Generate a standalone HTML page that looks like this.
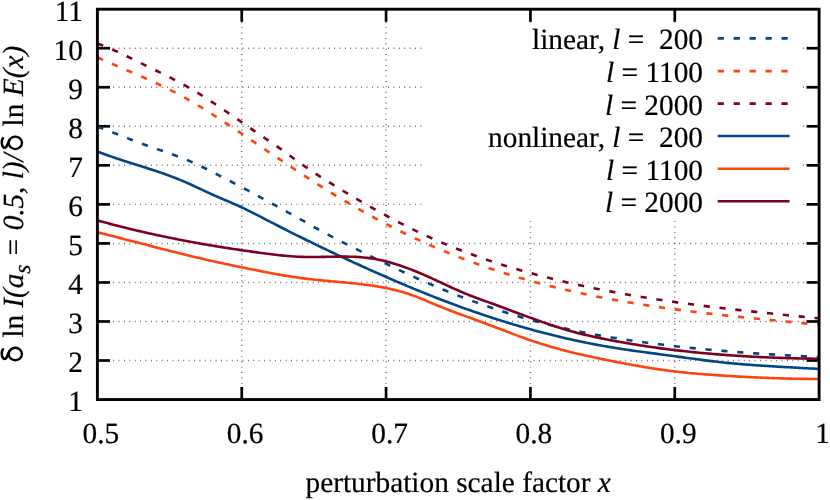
<!DOCTYPE html>
<html><head><meta charset="utf-8"><title>chart</title>
<style>
html,body{margin:0;padding:0;background:#fff;}
body{width:830px;height:500px;overflow:hidden;font-family:"Liberation Serif",serif;}
svg{display:block;will-change:transform;}
.t{font-family:"Liberation Serif",serif;font-size:29.33px;fill:#000;text-rendering:geometricPrecision;stroke:#000;stroke-width:0.2px;}
.s{font-family:"Liberation Sans",sans-serif;}
</style></head><body>
<svg width="830" height="500" viewBox="0 0 830 500">
<rect width="830" height="500" fill="#ffffff"/>
<g stroke="#000" stroke-opacity="0.62" stroke-width="1.45" stroke-dasharray="0.9 4.49" fill="none">
<path d="M97.04,360.51 H819.10"/>
<path d="M97.04,321.48 H819.10"/>
<path d="M97.04,282.44 H819.10"/>
<path d="M97.04,243.41 H819.10"/>
<path d="M97.04,204.38 H819.10"/>
<path d="M97.04,165.34 H819.10"/>
<path d="M97.04,126.31 H819.10"/>
<path d="M97.04,87.27 H819.10"/>
<path d="M97.04,48.23 H819.10"/>
<path d="M241.74,399.96 V9.20"/>
<path d="M386.08,399.96 V9.20"/>
<path d="M530.42,399.96 V9.20"/>
<path d="M674.76,399.96 V9.20"/>
</g>
<g stroke="#000" stroke-width="2.7" fill="none">
<path d="M97.40,360.51 h12.6"/><path d="M819.10,360.51 h-12.6"/>
<path d="M97.40,321.48 h12.6"/><path d="M819.10,321.48 h-12.6"/>
<path d="M97.40,282.44 h12.6"/><path d="M819.10,282.44 h-12.6"/>
<path d="M97.40,243.41 h12.6"/><path d="M819.10,243.41 h-12.6"/>
<path d="M97.40,204.38 h12.6"/><path d="M819.10,204.38 h-12.6"/>
<path d="M97.40,165.34 h12.6"/><path d="M819.10,165.34 h-12.6"/>
<path d="M97.40,126.31 h12.6"/><path d="M819.10,126.31 h-12.6"/>
<path d="M97.40,87.27 h12.6"/><path d="M819.10,87.27 h-12.6"/>
<path d="M97.40,48.23 h12.6"/><path d="M819.10,48.23 h-12.6"/>
<path d="M241.74,399.55 v-12.6"/><path d="M241.74,9.20 v12.6"/>
<path d="M386.08,399.55 v-12.6"/><path d="M386.08,9.20 v12.6"/>
<path d="M530.42,399.55 v-12.6"/><path d="M530.42,9.20 v12.6"/>
<path d="M674.76,399.55 v-12.6"/><path d="M674.76,9.20 v12.6"/>
</g>
<g fill="none" stroke-linejoin="round">
<path d="M97.40,126.69 L99.40,127.40 L101.40,128.13 L103.40,128.86 L105.40,129.61 L107.40,130.37 L109.40,131.13 L111.40,131.90 L113.40,132.67 L115.40,133.45 L117.40,134.23 L119.40,135.02 L121.40,135.81 L123.40,136.59 L125.40,137.38 L127.40,138.16 L129.40,138.95 L131.40,139.72 L133.40,140.50 L135.40,141.27 L137.40,142.03 L139.40,142.78 L141.40,143.53 L143.40,144.26 L145.40,144.99 L147.40,145.70 L149.40,146.41 L151.40,147.10 L153.40,147.80 L155.40,148.49 L157.40,149.17 L159.40,149.86 L161.40,150.55 L163.40,151.23 L165.40,151.92 L167.40,152.62 L169.40,153.32 L171.40,154.03 L173.40,154.75 L175.40,155.48 L177.40,156.22 L179.40,156.98 L181.40,157.75 L183.40,158.53 L185.40,159.34 L187.40,160.16 L189.40,161.00 L191.40,161.87 L193.40,162.76 L195.40,163.67 L197.40,164.60 L199.40,165.54 L201.40,166.50 L203.40,167.48 L205.40,168.46 L207.40,169.46 L209.40,170.46 L211.40,171.47 L213.40,172.49 L215.40,173.51 L217.40,174.54 L219.40,175.56 L221.40,176.59 L223.40,177.61 L225.40,178.64 L227.40,179.67 L229.40,180.70 L231.40,181.74 L233.40,182.79 L235.40,183.84 L237.40,184.89 L239.40,185.95 L241.40,187.01 L243.40,188.08 L245.40,189.15 L247.40,190.23 L249.40,191.31 L251.40,192.39 L253.40,193.47 L255.40,194.56 L257.40,195.65 L259.40,196.74 L261.40,197.83 L263.40,198.92 L265.40,200.01 L267.40,201.10 L269.40,202.20 L271.40,203.29 L273.40,204.38 L275.40,205.47 L277.40,206.56 L279.40,207.65 L281.40,208.74 L283.40,209.83 L285.40,210.92 L287.40,212.02 L289.40,213.11 L291.40,214.21 L293.40,215.32 L295.40,216.43 L297.40,217.54 L299.40,218.66 L301.40,219.79 L303.40,220.92 L305.40,222.06 L307.40,223.20 L309.40,224.34 L311.40,225.49 L313.40,226.62 L315.40,227.75 L317.40,228.87 L319.40,229.98 L321.40,231.08 L323.40,232.17 L325.40,233.25 L327.40,234.32 L329.40,235.38 L331.40,236.43 L333.40,237.48 L335.40,238.52 L337.40,239.55 L339.40,240.58 L341.40,241.60 L343.40,242.62 L345.40,243.63 L347.40,244.64 L349.40,245.65 L351.40,246.65 L353.40,247.65 L355.40,248.65 L357.40,249.65 L359.40,250.64 L361.40,251.64 L363.40,252.63 L365.40,253.62 L367.40,254.61 L369.40,255.60 L371.40,256.59 L373.40,257.57 L375.40,258.56 L377.40,259.54 L379.40,260.52 L381.40,261.49 L383.40,262.47 L385.40,263.44 L387.40,264.40 L389.40,265.37 L391.40,266.33 L393.40,267.29 L395.40,268.24 L397.40,269.19 L399.40,270.14 L401.40,271.08 L403.40,272.02 L405.40,272.96 L407.40,273.89 L409.40,274.82 L411.40,275.74 L413.40,276.66 L415.40,277.57 L417.40,278.47 L419.40,279.38 L421.40,280.27 L423.40,281.16 L425.40,282.05 L427.40,282.93 L429.40,283.80 L431.40,284.67 L433.40,285.53 L435.40,286.39 L437.40,287.24 L439.40,288.08 L441.40,288.92 L443.40,289.75 L445.40,290.57 L447.40,291.38 L449.40,292.19 L451.40,292.99 L453.40,293.79 L455.40,294.57 L457.40,295.36 L459.40,296.13 L461.40,296.90 L463.40,297.66 L465.40,298.41 L467.40,299.16 L469.40,299.90 L471.40,300.64 L473.40,301.37 L475.40,302.10 L477.40,302.82 L479.40,303.53 L481.40,304.24 L483.40,304.94 L485.40,305.64 L487.40,306.33 L489.40,307.01 L491.40,307.70 L493.40,308.37 L495.40,309.04 L497.40,309.71 L499.40,310.37 L501.40,311.02 L503.40,311.67 L505.40,312.32 L507.40,312.95 L509.40,313.59 L511.40,314.21 L513.40,314.83 L515.40,315.45 L517.40,316.05 L519.40,316.65 L521.40,317.25 L523.40,317.84 L525.40,318.42 L527.40,318.99 L529.40,319.56 L531.40,320.12 L533.40,320.68 L535.40,321.22 L537.40,321.76 L539.40,322.30 L541.40,322.82 L543.40,323.34 L545.40,323.85 L547.40,324.36 L549.40,324.86 L551.40,325.35 L553.40,325.84 L555.40,326.32 L557.40,326.79 L559.40,327.25 L561.40,327.71 L563.40,328.17 L565.40,328.62 L567.40,329.06 L569.40,329.49 L571.40,329.93 L573.40,330.35 L575.40,330.77 L577.40,331.18 L579.40,331.59 L581.40,331.99 L583.40,332.39 L585.40,332.78 L587.40,333.17 L589.40,333.55 L591.40,333.93 L593.40,334.30 L595.40,334.67 L597.40,335.03 L599.40,335.39 L601.40,335.74 L603.40,336.09 L605.40,336.44 L607.40,336.78 L609.40,337.11 L611.40,337.44 L613.40,337.77 L615.40,338.09 L617.40,338.41 L619.40,338.73 L621.40,339.04 L623.40,339.35 L625.40,339.65 L627.40,339.96 L629.40,340.25 L631.40,340.55 L633.40,340.84 L635.40,341.13 L637.40,341.41 L639.40,341.69 L641.40,341.97 L643.40,342.24 L645.40,342.52 L647.40,342.78 L649.40,343.05 L651.40,343.31 L653.40,343.57 L655.40,343.83 L657.40,344.08 L659.40,344.33 L661.40,344.58 L663.40,344.82 L665.40,345.06 L667.40,345.30 L669.40,345.53 L671.40,345.77 L673.40,346.00 L675.40,346.22 L677.40,346.45 L679.40,346.67 L681.40,346.89 L683.40,347.10 L685.40,347.32 L687.40,347.53 L689.40,347.74 L691.40,347.94 L693.40,348.15 L695.40,348.35 L697.40,348.55 L699.40,348.74 L701.40,348.93 L703.40,349.13 L705.40,349.31 L707.40,349.50 L709.40,349.68 L711.40,349.87 L713.40,350.05 L715.40,350.22 L717.40,350.40 L719.40,350.57 L721.40,350.74 L723.40,350.91 L725.40,351.08 L727.40,351.24 L729.40,351.40 L731.40,351.56 L733.40,351.72 L735.40,351.88 L737.40,352.03 L739.40,352.19 L741.40,352.34 L743.40,352.49 L745.40,352.63 L747.40,352.78 L749.40,352.92 L751.40,353.06 L753.40,353.20 L755.40,353.34 L757.40,353.48 L759.40,353.61 L761.40,353.75 L763.40,353.88 L765.40,354.01 L767.40,354.14 L769.40,354.27 L771.40,354.39 L773.40,354.52 L775.40,354.64 L777.40,354.76 L779.40,354.88 L781.40,355.00 L783.40,355.12 L785.40,355.24 L787.40,355.35 L789.40,355.47 L791.40,355.58 L793.40,355.69 L795.40,355.80 L797.40,355.91 L799.40,356.02 L801.40,356.13 L803.40,356.23 L805.40,356.34 L807.40,356.44 L809.40,356.54 L811.40,356.65 L813.40,356.75 L815.40,356.85 L817.40,356.95 L819.10,357.03" stroke="#004586" stroke-width="2.6" stroke-dasharray="6.2 9.726"/>
<path d="M97.40,57.42 L99.40,58.31 L101.40,59.20 L103.40,60.08 L105.40,60.96 L107.40,61.83 L109.40,62.70 L111.40,63.56 L113.40,64.42 L115.40,65.29 L117.40,66.15 L119.40,67.00 L121.40,67.86 L123.40,68.72 L125.40,69.58 L127.40,70.44 L129.40,71.30 L131.40,72.16 L133.40,73.03 L135.40,73.90 L137.40,74.77 L139.40,75.65 L141.40,76.53 L143.40,77.41 L145.40,78.30 L147.40,79.20 L149.40,80.11 L151.40,81.02 L153.40,81.94 L155.40,82.86 L157.40,83.80 L159.40,84.74 L161.40,85.69 L163.40,86.66 L165.40,87.63 L167.40,88.62 L169.40,89.61 L171.40,90.62 L173.40,91.65 L175.40,92.68 L177.40,93.73 L179.40,94.79 L181.40,95.87 L183.40,96.96 L185.40,98.06 L187.40,99.19 L189.40,100.33 L191.40,101.48 L193.40,102.65 L195.40,103.83 L197.40,105.03 L199.40,106.24 L201.40,107.46 L203.40,108.70 L205.40,109.94 L207.40,111.20 L209.40,112.46 L211.40,113.73 L213.40,115.02 L215.40,116.30 L217.40,117.60 L219.40,118.90 L221.40,120.21 L223.40,121.52 L225.40,122.84 L227.40,124.16 L229.40,125.48 L231.40,126.81 L233.40,128.14 L235.40,129.47 L237.40,130.80 L239.40,132.14 L241.40,133.48 L243.40,134.82 L245.40,136.17 L247.40,137.51 L249.40,138.86 L251.40,140.22 L253.40,141.57 L255.40,142.93 L257.40,144.29 L259.40,145.65 L261.40,147.01 L263.40,148.37 L265.40,149.73 L267.40,151.09 L269.40,152.45 L271.40,153.80 L273.40,155.15 L275.40,156.50 L277.40,157.85 L279.40,159.19 L281.40,160.54 L283.40,161.87 L285.40,163.21 L287.40,164.54 L289.40,165.87 L291.40,167.19 L293.40,168.52 L295.40,169.83 L297.40,171.15 L299.40,172.46 L301.40,173.77 L303.40,175.07 L305.40,176.37 L307.40,177.66 L309.40,178.95 L311.40,180.24 L313.40,181.52 L315.40,182.79 L317.40,184.06 L319.40,185.33 L321.40,186.59 L323.40,187.85 L325.40,189.10 L327.40,190.34 L329.40,191.58 L331.40,192.82 L333.40,194.05 L335.40,195.27 L337.40,196.49 L339.40,197.70 L341.40,198.90 L343.40,200.10 L345.40,201.29 L347.40,202.48 L349.40,203.65 L351.40,204.83 L353.40,205.99 L355.40,207.15 L357.40,208.30 L359.40,209.45 L361.40,210.58 L363.40,211.71 L365.40,212.83 L367.40,213.95 L369.40,215.06 L371.40,216.16 L373.40,217.25 L375.40,218.33 L377.40,219.41 L379.40,220.48 L381.40,221.55 L383.40,222.60 L385.40,223.65 L387.40,224.69 L389.40,225.73 L391.40,226.75 L393.40,227.77 L395.40,228.78 L397.40,229.79 L399.40,230.79 L401.40,231.78 L403.40,232.76 L405.40,233.73 L407.40,234.70 L409.40,235.66 L411.40,236.62 L413.40,237.56 L415.40,238.50 L417.40,239.43 L419.40,240.36 L421.40,241.28 L423.40,242.19 L425.40,243.09 L427.40,243.98 L429.40,244.87 L431.40,245.75 L433.40,246.63 L435.40,247.49 L437.40,248.35 L439.40,249.20 L441.40,250.05 L443.40,250.89 L445.40,251.72 L447.40,252.54 L449.40,253.36 L451.40,254.16 L453.40,254.97 L455.40,255.76 L457.40,256.55 L459.40,257.33 L461.40,258.10 L463.40,258.87 L465.40,259.63 L467.40,260.38 L469.40,261.13 L471.40,261.87 L473.40,262.60 L475.40,263.33 L477.40,264.04 L479.40,264.76 L481.40,265.46 L483.40,266.16 L485.40,266.86 L487.40,267.54 L489.40,268.22 L491.40,268.90 L493.40,269.57 L495.40,270.23 L497.40,270.88 L499.40,271.53 L501.40,272.17 L503.40,272.81 L505.40,273.44 L507.40,274.07 L509.40,274.69 L511.40,275.30 L513.40,275.91 L515.40,276.51 L517.40,277.10 L519.40,277.69 L521.40,278.28 L523.40,278.85 L525.40,279.43 L527.40,279.99 L529.40,280.56 L531.40,281.11 L533.40,281.66 L535.40,282.21 L537.40,282.75 L539.40,283.28 L541.40,283.81 L543.40,284.34 L545.40,284.85 L547.40,285.37 L549.40,285.88 L551.40,286.38 L553.40,286.88 L555.40,287.37 L557.40,287.86 L559.40,288.34 L561.40,288.82 L563.40,289.29 L565.40,289.76 L567.40,290.23 L569.40,290.69 L571.40,291.14 L573.40,291.59 L575.40,292.04 L577.40,292.48 L579.40,292.91 L581.40,293.35 L583.40,293.77 L585.40,294.20 L587.40,294.62 L589.40,295.03 L591.40,295.44 L593.40,295.85 L595.40,296.25 L597.40,296.65 L599.40,297.04 L601.40,297.43 L603.40,297.81 L605.40,298.20 L607.40,298.57 L609.40,298.95 L611.40,299.32 L613.40,299.68 L615.40,300.04 L617.40,300.40 L619.40,300.76 L621.40,301.11 L623.40,301.46 L625.40,301.80 L627.40,302.14 L629.40,302.48 L631.40,302.81 L633.40,303.14 L635.40,303.47 L637.40,303.79 L639.40,304.11 L641.40,304.43 L643.40,304.74 L645.40,305.06 L647.40,305.36 L649.40,305.67 L651.40,305.97 L653.40,306.27 L655.40,306.56 L657.40,306.86 L659.40,307.15 L661.40,307.43 L663.40,307.72 L665.40,308.00 L667.40,308.28 L669.40,308.55 L671.40,308.83 L673.40,309.10 L675.40,309.37 L677.40,309.63 L679.40,309.90 L681.40,310.16 L683.40,310.42 L685.40,310.68 L687.40,310.93 L689.40,311.18 L691.40,311.43 L693.40,311.68 L695.40,311.93 L697.40,312.17 L699.40,312.41 L701.40,312.65 L703.40,312.89 L705.40,313.12 L707.40,313.36 L709.40,313.59 L711.40,313.82 L713.40,314.05 L715.40,314.28 L717.40,314.50 L719.40,314.73 L721.40,314.95 L723.40,315.17 L725.40,315.39 L727.40,315.60 L729.40,315.82 L731.40,316.04 L733.40,316.25 L735.40,316.46 L737.40,316.67 L739.40,316.88 L741.40,317.09 L743.40,317.30 L745.40,317.51 L747.40,317.71 L749.40,317.92 L751.40,318.12 L753.40,318.32 L755.40,318.52 L757.40,318.73 L759.40,318.93 L761.40,319.13 L763.40,319.32 L765.40,319.52 L767.40,319.72 L769.40,319.92 L771.40,320.11 L773.40,320.31 L775.40,320.51 L777.40,320.70 L779.40,320.90 L781.40,321.09 L783.40,321.28 L785.40,321.48 L787.40,321.67 L789.40,321.87 L791.40,322.06 L793.40,322.25 L795.40,322.45 L797.40,322.64 L799.40,322.83 L801.40,323.03 L803.40,323.22 L805.40,323.41 L807.40,323.61 L809.40,323.80 L811.40,324.00 L813.40,324.19 L815.40,324.39 L817.40,324.58 L819.10,324.75" stroke="#ff420e" stroke-width="2.6" stroke-dasharray="6.2 9.716"/>
<path d="M97.40,43.57 L99.40,44.28 L101.40,45.02 L103.40,45.79 L105.40,46.58 L107.40,47.39 L109.40,48.23 L111.40,49.09 L113.40,49.96 L115.40,50.85 L117.40,51.76 L119.40,52.69 L121.40,53.62 L123.40,54.57 L125.40,55.53 L127.40,56.50 L129.40,57.47 L131.40,58.45 L133.40,59.43 L135.40,60.42 L137.40,61.41 L139.40,62.40 L141.40,63.39 L143.40,64.37 L145.40,65.36 L147.40,66.33 L149.40,67.31 L151.40,68.29 L153.40,69.26 L155.40,70.24 L157.40,71.22 L159.40,72.20 L161.40,73.18 L163.40,74.17 L165.40,75.17 L167.40,76.17 L169.40,77.19 L171.40,78.21 L173.40,79.24 L175.40,80.28 L177.40,81.34 L179.40,82.41 L181.40,83.49 L183.40,84.59 L185.40,85.71 L187.40,86.84 L189.40,87.99 L191.40,89.16 L193.40,90.34 L195.40,91.54 L197.40,92.75 L199.40,93.98 L201.40,95.22 L203.40,96.48 L205.40,97.75 L207.40,99.03 L209.40,100.32 L211.40,101.62 L213.40,102.93 L215.40,104.25 L217.40,105.58 L219.40,106.92 L221.40,108.27 L223.40,109.62 L225.40,110.98 L227.40,112.34 L229.40,113.71 L231.40,115.09 L233.40,116.46 L235.40,117.85 L237.40,119.23 L239.40,120.61 L241.40,122.00 L243.40,123.39 L245.40,124.78 L247.40,126.16 L249.40,127.55 L251.40,128.93 L253.40,130.32 L255.40,131.70 L257.40,133.07 L259.40,134.44 L261.40,135.81 L263.40,137.17 L265.40,138.52 L267.40,139.87 L269.40,141.22 L271.40,142.57 L273.40,143.92 L275.40,145.29 L277.40,146.67 L279.40,148.08 L281.40,149.50 L283.40,150.95 L285.40,152.40 L287.40,153.87 L289.40,155.33 L291.40,156.80 L293.40,158.25 L295.40,159.70 L297.40,161.14 L299.40,162.56 L301.40,163.98 L303.40,165.38 L305.40,166.77 L307.40,168.14 L309.40,169.50 L311.40,170.85 L313.40,172.18 L315.40,173.51 L317.40,174.82 L319.40,176.12 L321.40,177.41 L323.40,178.69 L325.40,179.96 L327.40,181.22 L329.40,182.47 L331.40,183.72 L333.40,184.96 L335.40,186.19 L337.40,187.41 L339.40,188.63 L341.40,189.84 L343.40,191.04 L345.40,192.25 L347.40,193.44 L349.40,194.63 L351.40,195.82 L353.40,197.00 L355.40,198.18 L357.40,199.35 L359.40,200.52 L361.40,201.68 L363.40,202.83 L365.40,203.99 L367.40,205.13 L369.40,206.27 L371.40,207.40 L373.40,208.53 L375.40,209.65 L377.40,210.76 L379.40,211.87 L381.40,212.97 L383.40,214.07 L385.40,215.16 L387.40,216.24 L389.40,217.31 L391.40,218.38 L393.40,219.44 L395.40,220.50 L397.40,221.54 L399.40,222.58 L401.40,223.61 L403.40,224.63 L405.40,225.65 L407.40,226.66 L409.40,227.65 L411.40,228.64 L413.40,229.63 L415.40,230.60 L417.40,231.57 L419.40,232.52 L421.40,233.47 L423.40,234.41 L425.40,235.34 L427.40,236.26 L429.40,237.18 L431.40,238.08 L433.40,238.97 L435.40,239.86 L437.40,240.73 L439.40,241.60 L441.40,242.46 L443.40,243.31 L445.40,244.15 L447.40,244.98 L449.40,245.80 L451.40,246.62 L453.40,247.42 L455.40,248.22 L457.40,249.01 L459.40,249.79 L461.40,250.57 L463.40,251.33 L465.40,252.09 L467.40,252.84 L469.40,253.59 L471.40,254.32 L473.40,255.05 L475.40,255.77 L477.40,256.48 L479.40,257.19 L481.40,257.89 L483.40,258.58 L485.40,259.27 L487.40,259.95 L489.40,260.62 L491.40,261.28 L493.40,261.94 L495.40,262.59 L497.40,263.24 L499.40,263.88 L501.40,264.51 L503.40,265.14 L505.40,265.76 L507.40,266.37 L509.40,266.98 L511.40,267.58 L513.40,268.18 L515.40,268.77 L517.40,269.36 L519.40,269.94 L521.40,270.51 L523.40,271.08 L525.40,271.65 L527.40,272.21 L529.40,272.76 L531.40,273.31 L533.40,273.85 L535.40,274.39 L537.40,274.93 L539.40,275.46 L541.40,275.98 L543.40,276.50 L545.40,277.02 L547.40,277.53 L549.40,278.04 L551.40,278.54 L553.40,279.04 L555.40,279.53 L557.40,280.02 L559.40,280.50 L561.40,280.98 L563.40,281.46 L565.40,281.93 L567.40,282.40 L569.40,282.86 L571.40,283.32 L573.40,283.77 L575.40,284.22 L577.40,284.67 L579.40,285.11 L581.40,285.55 L583.40,285.98 L585.40,286.41 L587.40,286.84 L589.40,287.26 L591.40,287.68 L593.40,288.09 L595.40,288.50 L597.40,288.91 L599.40,289.31 L601.40,289.71 L603.40,290.10 L605.40,290.49 L607.40,290.88 L609.40,291.26 L611.40,291.65 L613.40,292.02 L615.40,292.40 L617.40,292.76 L619.40,293.13 L621.40,293.49 L623.40,293.85 L625.40,294.21 L627.40,294.56 L629.40,294.91 L631.40,295.26 L633.40,295.60 L635.40,295.94 L637.40,296.28 L639.40,296.61 L641.40,296.94 L643.40,297.27 L645.40,297.59 L647.40,297.91 L649.40,298.23 L651.40,298.55 L653.40,298.86 L655.40,299.17 L657.40,299.47 L659.40,299.78 L661.40,300.08 L663.40,300.38 L665.40,300.67 L667.40,300.97 L669.40,301.26 L671.40,301.55 L673.40,301.83 L675.40,302.11 L677.40,302.40 L679.40,302.67 L681.40,302.95 L683.40,303.22 L685.40,303.49 L687.40,303.76 L689.40,304.03 L691.40,304.30 L693.40,304.56 L695.40,304.82 L697.40,305.08 L699.40,305.33 L701.40,305.59 L703.40,305.84 L705.40,306.09 L707.40,306.34 L709.40,306.59 L711.40,306.83 L713.40,307.08 L715.40,307.32 L717.40,307.56 L719.40,307.79 L721.40,308.03 L723.40,308.27 L725.40,308.50 L727.40,308.73 L729.40,308.96 L731.40,309.19 L733.40,309.42 L735.40,309.65 L737.40,309.87 L739.40,310.09 L741.40,310.32 L743.40,310.54 L745.40,310.76 L747.40,310.98 L749.40,311.20 L751.40,311.41 L753.40,311.63 L755.40,311.84 L757.40,312.06 L759.40,312.27 L761.40,312.48 L763.40,312.69 L765.40,312.90 L767.40,313.11 L769.40,313.32 L771.40,313.53 L773.40,313.74 L775.40,313.95 L777.40,314.15 L779.40,314.36 L781.40,314.56 L783.40,314.77 L785.40,314.97 L787.40,315.18 L789.40,315.38 L791.40,315.59 L793.40,315.79 L795.40,315.99 L797.40,316.19 L799.40,316.40 L801.40,316.60 L803.40,316.80 L805.40,317.01 L807.40,317.21 L809.40,317.41 L811.40,317.61 L813.40,317.81 L815.40,318.02 L817.40,318.22 L819.10,318.39" stroke="#7e0021" stroke-width="2.6" stroke-dasharray="6.2 9.730"/>
<path d="M97.40,151.40 L99.40,152.19 L101.40,152.96 L103.40,153.72 L105.40,154.46 L107.40,155.19 L109.40,155.91 L111.40,156.61 L113.40,157.31 L115.40,157.99 L117.40,158.66 L119.40,159.33 L121.40,159.99 L123.40,160.64 L125.40,161.29 L127.40,161.93 L129.40,162.57 L131.40,163.20 L133.40,163.83 L135.40,164.46 L137.40,165.09 L139.40,165.72 L141.40,166.35 L143.40,166.98 L145.40,167.61 L147.40,168.25 L149.40,168.89 L151.40,169.54 L153.40,170.19 L155.40,170.85 L157.40,171.52 L159.40,172.19 L161.40,172.88 L163.40,173.57 L165.40,174.28 L167.40,174.99 L169.40,175.72 L171.40,176.47 L173.40,177.23 L175.40,178.00 L177.40,178.79 L179.40,179.59 L181.40,180.42 L183.40,181.26 L185.40,182.12 L187.40,183.00 L189.40,183.89 L191.40,184.79 L193.40,185.71 L195.40,186.63 L197.40,187.56 L199.40,188.50 L201.40,189.44 L203.40,190.38 L205.40,191.32 L207.40,192.25 L209.40,193.18 L211.40,194.10 L213.40,195.01 L215.40,195.90 L217.40,196.78 L219.40,197.65 L221.40,198.51 L223.40,199.36 L225.40,200.21 L227.40,201.06 L229.40,201.90 L231.40,202.76 L233.40,203.62 L235.40,204.49 L237.40,205.38 L239.40,206.29 L241.40,207.21 L243.40,208.15 L245.40,209.11 L247.40,210.09 L249.40,211.08 L251.40,212.08 L253.40,213.10 L255.40,214.12 L257.40,215.15 L259.40,216.18 L261.40,217.22 L263.40,218.26 L265.40,219.30 L267.40,220.33 L269.40,221.37 L271.40,222.40 L273.40,223.42 L275.40,224.45 L277.40,225.47 L279.40,226.49 L281.40,227.50 L283.40,228.52 L285.40,229.53 L287.40,230.54 L289.40,231.54 L291.40,232.54 L293.40,233.54 L295.40,234.54 L297.40,235.54 L299.40,236.53 L301.40,237.52 L303.40,238.50 L305.40,239.49 L307.40,240.47 L309.40,241.45 L311.40,242.42 L313.40,243.40 L315.40,244.37 L317.40,245.34 L319.40,246.30 L321.40,247.26 L323.40,248.22 L325.40,249.18 L327.40,250.14 L329.40,251.09 L331.40,252.04 L333.40,252.98 L335.40,253.93 L337.40,254.87 L339.40,255.81 L341.40,256.74 L343.40,257.68 L345.40,258.61 L347.40,259.54 L349.40,260.46 L351.40,261.39 L353.40,262.31 L355.40,263.22 L357.40,264.14 L359.40,265.05 L361.40,265.96 L363.40,266.87 L365.40,267.77 L367.40,268.67 L369.40,269.57 L371.40,270.47 L373.40,271.36 L375.40,272.25 L377.40,273.14 L379.40,274.03 L381.40,274.91 L383.40,275.79 L385.40,276.66 L387.40,277.54 L389.40,278.41 L391.40,279.27 L393.40,280.14 L395.40,281.00 L397.40,281.85 L399.40,282.71 L401.40,283.56 L403.40,284.40 L405.40,285.25 L407.40,286.09 L409.40,286.92 L411.40,287.75 L413.40,288.58 L415.40,289.41 L417.40,290.23 L419.40,291.04 L421.40,291.86 L423.40,292.66 L425.40,293.47 L427.40,294.27 L429.40,295.07 L431.40,295.86 L433.40,296.65 L435.40,297.43 L437.40,298.21 L439.40,298.99 L441.40,299.76 L443.40,300.52 L445.40,301.28 L447.40,302.04 L449.40,302.79 L451.40,303.54 L453.40,304.29 L455.40,305.03 L457.40,305.76 L459.40,306.49 L461.40,307.22 L463.40,307.94 L465.40,308.65 L467.40,309.36 L469.40,310.07 L471.40,310.77 L473.40,311.47 L475.40,312.16 L477.40,312.85 L479.40,313.53 L481.40,314.21 L483.40,314.89 L485.40,315.56 L487.40,316.22 L489.40,316.88 L491.40,317.53 L493.40,318.18 L495.40,318.83 L497.40,319.47 L499.40,320.10 L501.40,320.73 L503.40,321.36 L505.40,321.98 L507.40,322.59 L509.40,323.20 L511.40,323.81 L513.40,324.41 L515.40,325.00 L517.40,325.59 L519.40,326.18 L521.40,326.76 L523.40,327.33 L525.40,327.90 L527.40,328.47 L529.40,329.03 L531.40,329.58 L533.40,330.13 L535.40,330.67 L537.40,331.21 L539.40,331.74 L541.40,332.27 L543.40,332.79 L545.40,333.31 L547.40,333.82 L549.40,334.33 L551.40,334.83 L553.40,335.33 L555.40,335.82 L557.40,336.30 L559.40,336.78 L561.40,337.26 L563.40,337.73 L565.40,338.19 L567.40,338.65 L569.40,339.10 L571.40,339.55 L573.40,339.99 L575.40,340.43 L577.40,340.86 L579.40,341.28 L581.40,341.70 L583.40,342.12 L585.40,342.53 L587.40,342.93 L589.40,343.33 L591.40,343.72 L593.40,344.10 L595.40,344.48 L597.40,344.86 L599.40,345.23 L601.40,345.59 L603.40,345.95 L605.40,346.30 L607.40,346.64 L609.40,346.98 L611.40,347.32 L613.40,347.64 L615.40,347.97 L617.40,348.28 L619.40,348.60 L621.40,348.91 L623.40,349.21 L625.40,349.51 L627.40,349.80 L629.40,350.09 L631.40,350.38 L633.40,350.67 L635.40,350.95 L637.40,351.23 L639.40,351.50 L641.40,351.78 L643.40,352.05 L645.40,352.32 L647.40,352.59 L649.40,352.85 L651.40,353.12 L653.40,353.39 L655.40,353.65 L657.40,353.91 L659.40,354.18 L661.40,354.44 L663.40,354.71 L665.40,354.97 L667.40,355.24 L669.40,355.50 L671.40,355.77 L673.40,356.04 L675.40,356.31 L677.40,356.59 L679.40,356.86 L681.40,357.13 L683.40,357.41 L685.40,357.68 L687.40,357.96 L689.40,358.23 L691.40,358.50 L693.40,358.77 L695.40,359.04 L697.40,359.31 L699.40,359.58 L701.40,359.84 L703.40,360.10 L705.40,360.35 L707.40,360.61 L709.40,360.86 L711.40,361.10 L713.40,361.35 L715.40,361.58 L717.40,361.81 L719.40,362.04 L721.40,362.26 L723.40,362.48 L725.40,362.69 L727.40,362.89 L729.40,363.09 L731.40,363.28 L733.40,363.47 L735.40,363.65 L737.40,363.83 L739.40,364.00 L741.40,364.17 L743.40,364.34 L745.40,364.50 L747.40,364.65 L749.40,364.81 L751.40,364.95 L753.40,365.10 L755.40,365.24 L757.40,365.38 L759.40,365.52 L761.40,365.65 L763.40,365.78 L765.40,365.91 L767.40,366.03 L769.40,366.15 L771.40,366.28 L773.40,366.40 L775.40,366.51 L777.40,366.63 L779.40,366.74 L781.40,366.86 L783.40,366.97 L785.40,367.08 L787.40,367.19 L789.40,367.31 L791.40,367.42 L793.40,367.53 L795.40,367.64 L797.40,367.75 L799.40,367.86 L801.40,367.97 L803.40,368.08 L805.40,368.20 L807.40,368.31 L809.40,368.43 L811.40,368.54 L813.40,368.66 L815.40,368.78 L817.40,368.90 L819.10,369.01" stroke="#004586" stroke-width="2.6"/>
<path d="M97.40,232.39 L99.40,232.87 L101.40,233.36 L103.40,233.85 L105.40,234.35 L107.40,234.84 L109.40,235.34 L111.40,235.84 L113.40,236.34 L115.40,236.85 L117.40,237.36 L119.40,237.87 L121.40,238.38 L123.40,238.89 L125.40,239.40 L127.40,239.92 L129.40,240.43 L131.40,240.95 L133.40,241.47 L135.40,241.98 L137.40,242.50 L139.40,243.02 L141.40,243.54 L143.40,244.06 L145.40,244.58 L147.40,245.10 L149.40,245.62 L151.40,246.13 L153.40,246.65 L155.40,247.17 L157.40,247.69 L159.40,248.20 L161.40,248.72 L163.40,249.23 L165.40,249.74 L167.40,250.25 L169.40,250.76 L171.40,251.27 L173.40,251.77 L175.40,252.27 L177.40,252.77 L179.40,253.27 L181.40,253.77 L183.40,254.26 L185.40,254.75 L187.40,255.24 L189.40,255.72 L191.40,256.21 L193.40,256.68 L195.40,257.16 L197.40,257.63 L199.40,258.10 L201.40,258.56 L203.40,259.03 L205.40,259.49 L207.40,259.94 L209.40,260.40 L211.40,260.85 L213.40,261.30 L215.40,261.74 L217.40,262.18 L219.40,262.62 L221.40,263.06 L223.40,263.49 L225.40,263.93 L227.40,264.35 L229.40,264.78 L231.40,265.20 L233.40,265.63 L235.40,266.04 L237.40,266.46 L239.40,266.87 L241.40,267.29 L243.40,267.69 L245.40,268.10 L247.40,268.50 L249.40,268.91 L251.40,269.31 L253.40,269.70 L255.40,270.10 L257.40,270.49 L259.40,270.88 L261.40,271.27 L263.40,271.66 L265.40,272.04 L267.40,272.42 L269.40,272.80 L271.40,273.18 L273.40,273.55 L275.40,273.92 L277.40,274.29 L279.40,274.65 L281.40,275.00 L283.40,275.35 L285.40,275.69 L287.40,276.03 L289.40,276.35 L291.40,276.67 L293.40,276.98 L295.40,277.28 L297.40,277.57 L299.40,277.85 L301.40,278.12 L303.40,278.38 L305.40,278.63 L307.40,278.87 L309.40,279.10 L311.40,279.33 L313.40,279.54 L315.40,279.75 L317.40,279.96 L319.40,280.15 L321.40,280.35 L323.40,280.54 L325.40,280.72 L327.40,280.91 L329.40,281.09 L331.40,281.27 L333.40,281.45 L335.40,281.63 L337.40,281.80 L339.40,281.98 L341.40,282.17 L343.40,282.35 L345.40,282.54 L347.40,282.73 L349.40,282.92 L351.40,283.12 L353.40,283.32 L355.40,283.54 L357.40,283.75 L359.40,283.98 L361.40,284.21 L363.40,284.45 L365.40,284.70 L367.40,284.97 L369.40,285.24 L371.40,285.52 L373.40,285.81 L375.40,286.12 L377.40,286.44 L379.40,286.78 L381.40,287.13 L383.40,287.50 L385.40,287.88 L387.40,288.29 L389.40,288.71 L391.40,289.15 L393.40,289.62 L395.40,290.11 L397.40,290.62 L399.40,291.16 L401.40,291.72 L403.40,292.31 L405.40,292.92 L407.40,293.56 L409.40,294.23 L411.40,294.92 L413.40,295.64 L415.40,296.37 L417.40,297.14 L419.40,297.92 L421.40,298.73 L423.40,299.55 L425.40,300.39 L427.40,301.24 L429.40,302.09 L431.40,302.94 L433.40,303.78 L435.40,304.62 L437.40,305.44 L439.40,306.25 L441.40,307.05 L443.40,307.84 L445.40,308.62 L447.40,309.40 L449.40,310.17 L451.40,310.93 L453.40,311.69 L455.40,312.44 L457.40,313.18 L459.40,313.92 L461.40,314.66 L463.40,315.40 L465.40,316.13 L467.40,316.86 L469.40,317.59 L471.40,318.32 L473.40,319.05 L475.40,319.78 L477.40,320.51 L479.40,321.24 L481.40,321.97 L483.40,322.71 L485.40,323.45 L487.40,324.19 L489.40,324.94 L491.40,325.69 L493.40,326.45 L495.40,327.21 L497.40,327.98 L499.40,328.75 L501.40,329.51 L503.40,330.28 L505.40,331.05 L507.40,331.82 L509.40,332.58 L511.40,333.35 L513.40,334.10 L515.40,334.86 L517.40,335.61 L519.40,336.35 L521.40,337.08 L523.40,337.81 L525.40,338.53 L527.40,339.23 L529.40,339.93 L531.40,340.62 L533.40,341.29 L535.40,341.96 L537.40,342.61 L539.40,343.25 L541.40,343.88 L543.40,344.50 L545.40,345.11 L547.40,345.71 L549.40,346.30 L551.40,346.88 L553.40,347.45 L555.40,348.01 L557.40,348.56 L559.40,349.11 L561.40,349.64 L563.40,350.17 L565.40,350.69 L567.40,351.20 L569.40,351.71 L571.40,352.21 L573.40,352.70 L575.40,353.18 L577.40,353.66 L579.40,354.13 L581.40,354.59 L583.40,355.05 L585.40,355.50 L587.40,355.95 L589.40,356.39 L591.40,356.83 L593.40,357.26 L595.40,357.69 L597.40,358.11 L599.40,358.53 L601.40,358.95 L603.40,359.36 L605.40,359.77 L607.40,360.17 L609.40,360.57 L611.40,360.97 L613.40,361.37 L615.40,361.76 L617.40,362.15 L619.40,362.54 L621.40,362.93 L623.40,363.31 L625.40,363.68 L627.40,364.06 L629.40,364.43 L631.40,364.79 L633.40,365.16 L635.40,365.51 L637.40,365.86 L639.40,366.21 L641.40,366.56 L643.40,366.89 L645.40,367.23 L647.40,367.55 L649.40,367.88 L651.40,368.19 L653.40,368.50 L655.40,368.81 L657.40,369.11 L659.40,369.40 L661.40,369.69 L663.40,369.97 L665.40,370.24 L667.40,370.51 L669.40,370.77 L671.40,371.02 L673.40,371.27 L675.40,371.50 L677.40,371.74 L679.40,371.96 L681.40,372.18 L683.40,372.39 L685.40,372.60 L687.40,372.80 L689.40,372.99 L691.40,373.18 L693.40,373.36 L695.40,373.54 L697.40,373.72 L699.40,373.89 L701.40,374.05 L703.40,374.21 L705.40,374.37 L707.40,374.52 L709.40,374.67 L711.40,374.81 L713.40,374.95 L715.40,375.09 L717.40,375.23 L719.40,375.36 L721.40,375.49 L723.40,375.62 L725.40,375.75 L727.40,375.88 L729.40,376.00 L731.40,376.12 L733.40,376.24 L735.40,376.35 L737.40,376.47 L739.40,376.58 L741.40,376.69 L743.40,376.80 L745.40,376.90 L747.40,377.00 L749.40,377.10 L751.40,377.20 L753.40,377.30 L755.40,377.39 L757.40,377.48 L759.40,377.57 L761.40,377.65 L763.40,377.74 L765.40,377.82 L767.40,377.90 L769.40,377.97 L771.40,378.05 L773.40,378.12 L775.40,378.18 L777.40,378.25 L779.40,378.31 L781.40,378.37 L783.40,378.43 L785.40,378.49 L787.40,378.54 L789.40,378.59 L791.40,378.63 L793.40,378.68 L795.40,378.72 L797.40,378.76 L799.40,378.79 L801.40,378.83 L803.40,378.86 L805.40,378.88 L807.40,378.91 L809.40,378.93 L811.40,378.95 L813.40,378.96 L815.40,378.97 L817.40,378.98 L819.10,378.99" stroke="#ff420e" stroke-width="2.6"/>
<path d="M97.40,220.34 L99.40,220.90 L101.40,221.45 L103.40,222.00 L105.40,222.55 L107.40,223.09 L109.40,223.62 L111.40,224.15 L113.40,224.68 L115.40,225.20 L117.40,225.72 L119.40,226.23 L121.40,226.74 L123.40,227.24 L125.40,227.74 L127.40,228.24 L129.40,228.73 L131.40,229.21 L133.40,229.69 L135.40,230.17 L137.40,230.65 L139.40,231.12 L141.40,231.58 L143.40,232.04 L145.40,232.50 L147.40,232.95 L149.40,233.40 L151.40,233.85 L153.40,234.29 L155.40,234.73 L157.40,235.16 L159.40,235.59 L161.40,236.01 L163.40,236.43 L165.40,236.85 L167.40,237.27 L169.40,237.68 L171.40,238.08 L173.40,238.49 L175.40,238.89 L177.40,239.28 L179.40,239.67 L181.40,240.06 L183.40,240.45 L185.40,240.83 L187.40,241.20 L189.40,241.58 L191.40,241.95 L193.40,242.32 L195.40,242.68 L197.40,243.04 L199.40,243.40 L201.40,243.75 L203.40,244.10 L205.40,244.45 L207.40,244.79 L209.40,245.13 L211.40,245.47 L213.40,245.81 L215.40,246.14 L217.40,246.47 L219.40,246.79 L221.40,247.11 L223.40,247.43 L225.40,247.75 L227.40,248.06 L229.40,248.37 L231.40,248.68 L233.40,248.98 L235.40,249.28 L237.40,249.58 L239.40,249.88 L241.40,250.17 L243.40,250.46 L245.40,250.75 L247.40,251.03 L249.40,251.31 L251.40,251.59 L253.40,251.87 L255.40,252.14 L257.40,252.41 L259.40,252.68 L261.40,252.94 L263.40,253.21 L265.40,253.47 L267.40,253.73 L269.40,253.98 L271.40,254.23 L273.40,254.48 L275.40,254.72 L277.40,254.95 L279.40,255.17 L281.40,255.39 L283.40,255.59 L285.40,255.79 L287.40,255.97 L289.40,256.14 L291.40,256.30 L293.40,256.44 L295.40,256.57 L297.40,256.68 L299.40,256.78 L301.40,256.86 L303.40,256.92 L305.40,256.96 L307.40,256.99 L309.40,257.01 L311.40,257.02 L313.40,257.01 L315.40,257.00 L317.40,256.98 L319.40,256.95 L321.40,256.92 L323.40,256.88 L325.40,256.84 L327.40,256.80 L329.40,256.76 L331.40,256.72 L333.40,256.69 L335.40,256.66 L337.40,256.64 L339.40,256.62 L341.40,256.61 L343.40,256.61 L345.40,256.63 L347.40,256.65 L349.40,256.69 L351.40,256.75 L353.40,256.82 L355.40,256.91 L357.40,257.02 L359.40,257.15 L361.40,257.30 L363.40,257.48 L365.40,257.68 L367.40,257.90 L369.40,258.16 L371.40,258.44 L373.40,258.75 L375.40,259.09 L377.40,259.47 L379.40,259.87 L381.40,260.30 L383.40,260.76 L385.40,261.24 L387.40,261.75 L389.40,262.29 L391.40,262.85 L393.40,263.43 L395.40,264.04 L397.40,264.67 L399.40,265.32 L401.40,266.00 L403.40,266.69 L405.40,267.41 L407.40,268.14 L409.40,268.89 L411.40,269.66 L413.40,270.45 L415.40,271.25 L417.40,272.07 L419.40,272.90 L421.40,273.74 L423.40,274.60 L425.40,275.48 L427.40,276.36 L429.40,277.26 L431.40,278.16 L433.40,279.08 L435.40,280.00 L437.40,280.93 L439.40,281.87 L441.40,282.80 L443.40,283.74 L445.40,284.67 L447.40,285.61 L449.40,286.53 L451.40,287.46 L453.40,288.37 L455.40,289.27 L457.40,290.16 L459.40,291.04 L461.40,291.91 L463.40,292.75 L465.40,293.58 L467.40,294.39 L469.40,295.18 L471.40,295.96 L473.40,296.72 L475.40,297.47 L477.40,298.21 L479.40,298.95 L481.40,299.68 L483.40,300.41 L485.40,301.14 L487.40,301.87 L489.40,302.60 L491.40,303.33 L493.40,304.06 L495.40,304.79 L497.40,305.52 L499.40,306.26 L501.40,306.99 L503.40,307.73 L505.40,308.46 L507.40,309.20 L509.40,309.94 L511.40,310.68 L513.40,311.43 L515.40,312.17 L517.40,312.91 L519.40,313.66 L521.40,314.40 L523.40,315.14 L525.40,315.88 L527.40,316.62 L529.40,317.36 L531.40,318.09 L533.40,318.82 L535.40,319.54 L537.40,320.26 L539.40,320.97 L541.40,321.68 L543.40,322.38 L545.40,323.08 L547.40,323.77 L549.40,324.45 L551.40,325.12 L553.40,325.79 L555.40,326.44 L557.40,327.09 L559.40,327.72 L561.40,328.34 L563.40,328.96 L565.40,329.56 L567.40,330.15 L569.40,330.72 L571.40,331.29 L573.40,331.84 L575.40,332.37 L577.40,332.90 L579.40,333.41 L581.40,333.91 L583.40,334.40 L585.40,334.88 L587.40,335.35 L589.40,335.81 L591.40,336.26 L593.40,336.71 L595.40,337.14 L597.40,337.57 L599.40,337.98 L601.40,338.39 L603.40,338.80 L605.40,339.20 L607.40,339.59 L609.40,339.97 L611.40,340.35 L613.40,340.73 L615.40,341.10 L617.40,341.47 L619.40,341.83 L621.40,342.19 L623.40,342.54 L625.40,342.89 L627.40,343.23 L629.40,343.57 L631.40,343.91 L633.40,344.23 L635.40,344.56 L637.40,344.88 L639.40,345.20 L641.40,345.51 L643.40,345.82 L645.40,346.12 L647.40,346.42 L649.40,346.71 L651.40,347.00 L653.40,347.29 L655.40,347.57 L657.40,347.84 L659.40,348.12 L661.40,348.39 L663.40,348.65 L665.40,348.91 L667.40,349.17 L669.40,349.42 L671.40,349.67 L673.40,349.91 L675.40,350.15 L677.40,350.39 L679.40,350.62 L681.40,350.85 L683.40,351.07 L685.40,351.29 L687.40,351.51 L689.40,351.72 L691.40,351.93 L693.40,352.14 L695.40,352.34 L697.40,352.54 L699.40,352.73 L701.40,352.93 L703.40,353.11 L705.40,353.30 L707.40,353.48 L709.40,353.65 L711.40,353.83 L713.40,354.00 L715.40,354.16 L717.40,354.33 L719.40,354.49 L721.40,354.64 L723.40,354.80 L725.40,354.95 L727.40,355.09 L729.40,355.24 L731.40,355.38 L733.40,355.51 L735.40,355.65 L737.40,355.78 L739.40,355.91 L741.40,356.03 L743.40,356.15 L745.40,356.27 L747.40,356.39 L749.40,356.50 L751.40,356.61 L753.40,356.71 L755.40,356.82 L757.40,356.92 L759.40,357.02 L761.40,357.11 L763.40,357.20 L765.40,357.29 L767.40,357.38 L769.40,357.47 L771.40,357.55 L773.40,357.63 L775.40,357.70 L777.40,357.78 L779.40,357.85 L781.40,357.92 L783.40,357.99 L785.40,358.05 L787.40,358.11 L789.40,358.17 L791.40,358.23 L793.40,358.28 L795.40,358.33 L797.40,358.38 L799.40,358.43 L801.40,358.48 L803.40,358.52 L805.40,358.56 L807.40,358.60 L809.40,358.64 L811.40,358.67 L813.40,358.70 L815.40,358.73 L817.40,358.76 L819.10,358.78" stroke="#7e0021" stroke-width="2.6"/>
</g>
<rect x="422" y="22.5" width="381" height="196.5" fill="#fff"/>
<path d="M717.7,38.4 H789.6" stroke="#004586" stroke-width="2.6" fill="none" stroke-dasharray="6.2 9.75"/>
<text transform="translate(0,49.30) scale(1,1.0) translate(0,-49.30)" x="703.0" y="49.30" text-anchor="end" class="t">linear, <tspan font-style="italic">l</tspan> =  200</text>
<path d="M717.7,71.1 H789.6" stroke="#ff420e" stroke-width="2.6" fill="none" stroke-dasharray="6.2 9.75"/>
<text transform="translate(0,82.00) scale(1,1.0) translate(0,-82.00)" x="703.0" y="82.00" text-anchor="end" class="t"><tspan font-style="italic">l</tspan> = 1100</text>
<path d="M717.7,103.6 H789.6" stroke="#7e0021" stroke-width="2.6" fill="none" stroke-dasharray="6.2 9.75"/>
<text transform="translate(0,114.50) scale(1,1.0) translate(0,-114.50)" x="703.0" y="114.50" text-anchor="end" class="t"><tspan font-style="italic">l</tspan> = 2000</text>
<path d="M717.7,136.05 H789.6" stroke="#004586" stroke-width="2.6" fill="none"/>
<text transform="translate(0,147.00) scale(1,1.0) translate(0,-147.00)" x="703.0" y="147.00" text-anchor="end" class="t">nonlinear, <tspan font-style="italic">l</tspan> =  200</text>
<path d="M717.7,168.7 H789.6" stroke="#ff420e" stroke-width="2.6" fill="none"/>
<text transform="translate(0,179.60) scale(1,1.0) translate(0,-179.60)" x="703.0" y="179.60" text-anchor="end" class="t"><tspan font-style="italic">l</tspan> = 1100</text>
<path d="M717.7,201.3 H789.6" stroke="#7e0021" stroke-width="2.6" fill="none"/>
<text transform="translate(0,212.20) scale(1,1.0) translate(0,-212.20)" x="703.0" y="212.20" text-anchor="end" class="t"><tspan font-style="italic">l</tspan> = 2000</text>
<rect x="97.4" y="9.2" width="721.70" height="390.35" stroke="#000" stroke-width="2.9" fill="none" stroke-linejoin="miter"/>
<text transform="translate(0,410.90) scale(1,1.0) translate(0,-410.90)" x="82.9" y="410.90" text-anchor="end" class="t">1</text>
<text transform="translate(0,371.80) scale(1,1.0) translate(0,-371.80)" x="82.9" y="371.80" text-anchor="end" class="t">2</text>
<text transform="translate(0,332.80) scale(1,1.0) translate(0,-332.80)" x="82.9" y="332.80" text-anchor="end" class="t">3</text>
<text transform="translate(0,293.70) scale(1,1.0) translate(0,-293.70)" x="82.9" y="293.70" text-anchor="end" class="t">4</text>
<text transform="translate(0,254.70) scale(1,1.0) translate(0,-254.70)" x="82.9" y="254.70" text-anchor="end" class="t">5</text>
<text transform="translate(0,215.70) scale(1,1.0) translate(0,-215.70)" x="82.9" y="215.70" text-anchor="end" class="t">6</text>
<text transform="translate(0,176.60) scale(1,1.0) translate(0,-176.60)" x="82.9" y="176.60" text-anchor="end" class="t">7</text>
<text transform="translate(0,137.60) scale(1,1.0) translate(0,-137.60)" x="82.9" y="137.60" text-anchor="end" class="t">8</text>
<text transform="translate(0,98.60) scale(1,1.0) translate(0,-98.60)" x="82.9" y="98.60" text-anchor="end" class="t">9</text>
<text transform="translate(0,59.50) scale(1,1.0) translate(0,-59.50)" x="82.9" y="59.50" text-anchor="end" class="t">10</text>
<text transform="translate(0,20.50) scale(1,1.0) translate(0,-20.50)" x="82.9" y="20.50" text-anchor="end" class="t">11</text>
<text transform="translate(0,443.00) scale(1,1.0) translate(0,-443.00)" x="100.9" y="443.00" text-anchor="middle" class="t">0.5</text>
<text transform="translate(0,443.00) scale(1,1.0) translate(0,-443.00)" x="245.2" y="443.00" text-anchor="middle" class="t">0.6</text>
<text transform="translate(0,443.00) scale(1,1.0) translate(0,-443.00)" x="389.6" y="443.00" text-anchor="middle" class="t">0.7</text>
<text transform="translate(0,443.00) scale(1,1.0) translate(0,-443.00)" x="533.9" y="443.00" text-anchor="middle" class="t">0.8</text>
<text transform="translate(0,443.00) scale(1,1.0) translate(0,-443.00)" x="678.3" y="443.00" text-anchor="middle" class="t">0.9</text>
<text transform="translate(0,443.00) scale(1,1.0) translate(0,-443.00)" x="822.6" y="443.00" text-anchor="middle" class="t">1</text>
<text transform="translate(0,492.00) scale(1,1.0) translate(0,-492.00)" x="458.2" y="492.00" text-anchor="middle" class="t">perturbation scale factor <tspan font-style="italic">x</tspan></text>
<g fill="none" stroke="#000" stroke-width="2.35" stroke-linecap="round" stroke-linejoin="round"><ellipse cx="15.3" cy="353.95" rx="6.65" ry="6.25"/><path d="M2.99,349.35 L2.67,349.76 L2.41,350.19 L2.21,350.65 L2.06,351.13 L1.95,351.62 L1.88,352.12 L1.84,352.63 L1.83,353.14 L1.83,353.65 L1.84,354.15 L1.88,354.65 L1.93,355.14 L2.02,355.63 L2.14,356.12 L2.31,356.63 L2.53,357.13 L2.80,357.63 L3.12,358.09 L3.49,358.47 L3.89,358.75 L4.34,358.89 L4.83,358.87 L5.31,358.71 L5.77,358.43 L6.17,358.08 L6.49,357.67 L6.74,357.24 L6.95,356.77 L7.13,356.30 L7.31,355.82 L7.50,355.35 L7.71,354.89 L7.92,354.43 L8.14,353.98 L8.35,353.52 L8.56,353.06 L8.76,352.60 L8.94,352.13 L9.10,351.65" stroke-width="2.55"/></g>
<g fill="none" stroke="#000" stroke-width="2.35" stroke-linecap="round" stroke-linejoin="round"><ellipse cx="15.3" cy="142.8" rx="6.65" ry="6.25"/><path d="M2.99,138.20 L2.67,138.61 L2.41,139.04 L2.21,139.50 L2.06,139.98 L1.95,140.47 L1.88,140.97 L1.84,141.48 L1.83,141.99 L1.83,142.50 L1.84,143.00 L1.88,143.50 L1.93,143.99 L2.02,144.48 L2.14,144.97 L2.31,145.48 L2.53,145.98 L2.80,146.48 L3.12,146.94 L3.49,147.32 L3.89,147.60 L4.34,147.74 L4.83,147.72 L5.31,147.56 L5.77,147.28 L6.17,146.93 L6.49,146.52 L6.74,146.09 L6.95,145.62 L7.13,145.15 L7.31,144.67 L7.50,144.20 L7.71,143.74 L7.92,143.28 L8.14,142.83 L8.35,142.37 L8.56,141.91 L8.76,141.45 L8.94,140.98 L9.10,140.50" stroke-width="2.55"/></g>
<text transform="translate(22.6,337.6) rotate(-90)" class="t" textLength="184.2" lengthAdjust="spacing">ln <tspan font-style="italic">I(a</tspan><tspan font-style="italic" font-size="23.46" dy="7.2">s</tspan><tspan dy="-7.2" font-style="italic"> = 0.5, l)/</tspan></text>
<text transform="translate(22.6,126.4) rotate(-90)" class="t">ln <tspan font-style="italic">E(x)</tspan></text>
</svg>
</body></html>
